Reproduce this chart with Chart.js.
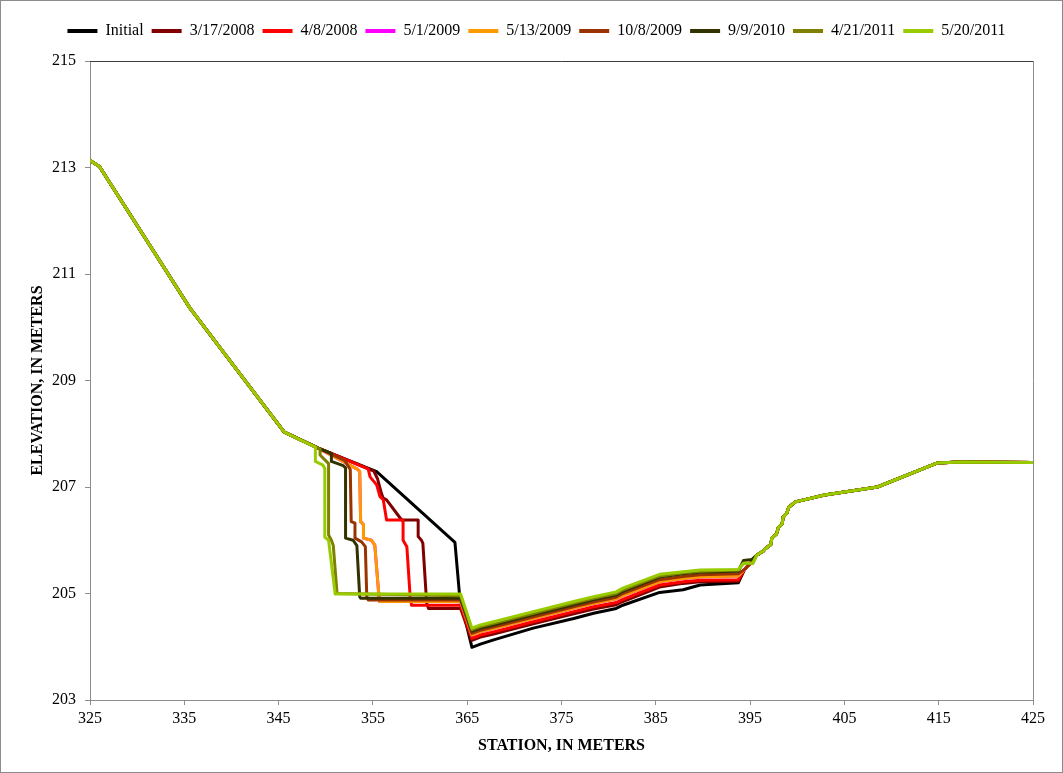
<!DOCTYPE html>
<html>
<head>
<meta charset="utf-8">
<script src="https://cdn.jsdelivr.net/npm/chart.js@4.4.1/dist/chart.umd.min.js"></script>
<style>
  html, body { margin: 0; padding: 0; background: #ffffff; }
  #wrap { width: 1063px; height: 773px; position: relative; }
</style>
</head>
<body>
<div id="wrap"><canvas id="xs"></canvas></div>
<script>
// Cross-section survey: station (m) vs. elevation (m) for each survey date.

// Reach shared by every survey: left overbank down to the top of the cut bank
const leftBankStation = [325, 326, 335.6, 345.6];
const leftBankElev    = [213.13, 213.02, 210.36, 208.03];

// Reach shared by every survey: right bank up to the terrace
const rightBankStation = [395.7, 396.4, 396.6, 397.2, 397.3, 397.8, 398.0, 398.4, 398.5, 398.9, 399.1, 399.8, 402.9, 408.5, 414.8, 417.3, 425];
const rightBankElev    = [205.72, 205.80, 205.84, 205.92, 206.04, 206.12, 206.24, 206.31, 206.43, 206.51, 206.62, 206.72, 206.85, 207.00, 207.45, 207.47, 207.46];

// Channel bed stations (thalweg to right toe)
const bedStation = [365.5, 366.4, 367.8, 372.0, 376.3, 378.4, 380.8, 381.5, 385.4, 387.9, 389.7, 393.75];

// Survey labels
const surveyLabels = ['Initial', '3/17/2008', '4/8/2008', '5/1/2009', '5/13/2009', '10/8/2009', '9/9/2010', '4/21/2011', '5/20/2011'];
const surveyColors = ['#000000', '#800000', '#ff0000', '#ff00ff', '#ff9900', '#993300', '#333300', '#808000', '#99cc00'];

// Initial
const initialBankStation = [349.2, 355.4, 363.7, 364.2, 364.6];
const initialBankElev    = [207.73, 207.29, 205.96, 204.95, 204.65];
const initialBedElev     = [203.99, 204.05, 204.13, 204.35, 204.53, 204.63, 204.72, 204.78, 205.02, 205.07, 205.16, 205.20];
const initialToeStation  = [394.4, 395.1];
const initialToeElev     = [205.45, 205.58];

// 3/17/2008
const s0308BankStation = [349.2, 355.1, 355.5, 355.9, 356.1, 356.45, 358.05, 359.8, 359.8, 360.15, 360.3, 360.7, 360.9, 364.3];
const s0308BankElev    = [207.73, 207.30, 207.15, 206.88, 206.79, 206.76, 206.38, 206.38, 206.07, 206.00, 205.94, 204.82, 204.72, 204.72];
const s0308BedElev     = [204.12, 204.18, 204.24, 204.43, 204.62, 204.71, 204.79, 204.85, 205.12, 205.19, 205.22, 205.23];
const s0308ToeStation  = [394.4, 395.1];
const s0308ToeElev     = [205.45, 205.58];

// 4/8/2008
const s0408BankStation = [349.2, 354.5, 354.7, 355.4, 355.75, 356.1, 356.45, 358.2, 358.2, 358.6, 358.95, 359.1, 364.3];
const s0408BankElev    = [207.73, 207.34, 207.19, 207.04, 206.82, 206.76, 206.38, 206.38, 206.00, 205.88, 204.94, 204.78, 204.78];
const s0408BedElev     = [204.16, 204.22, 204.28, 204.47, 204.66, 204.75, 204.83, 204.89, 205.16, 205.22, 205.25, 205.26];
const s0408ToeStation  = [394.4, 395.1];
const s0408ToeElev     = [205.45, 205.58];

// 5/1/2009
const s0509aBankStation = [349.2, 353.4, 353.6, 353.7, 354.0, 354.0, 354.85, 355.2, 355.6, 355.7, 364.3];
const s0509aBankElev    = [207.73, 207.33, 207.29, 206.35, 206.29, 206.04, 206.00, 205.91, 205.04, 204.85, 204.85];
const s0509aBedElev     = [204.22, 204.28, 204.34, 204.53, 204.72, 204.81, 204.90, 204.96, 205.22, 205.28, 205.31, 205.33];
const s0509aToeStation  = [394.4, 395.1];
const s0509aToeElev     = [205.45, 205.58];

// 5/13/2009
const s0509bBankStation = [349.2, 353.4, 353.6, 353.7, 354.0, 354.0, 354.85, 355.2, 355.6, 355.7, 364.3];
const s0509bBankElev    = [207.73, 207.33, 207.29, 206.35, 206.29, 206.04, 206.00, 205.91, 205.04, 204.85, 204.85];
const s0509bBedElev     = [204.22, 204.28, 204.34, 204.53, 204.72, 204.81, 204.90, 204.96, 205.22, 205.28, 205.31, 205.33];
const s0509bToeStation  = [394.4, 395.1];
const s0509bToeElev     = [205.45, 205.58];

// 10/8/2009
const s1009BankStation = [349.2, 352.0, 352.6, 352.7, 353.1, 353.1, 353.8, 354.2, 354.35, 354.5, 364.3];
const s1009BankElev    = [207.73, 207.50, 207.33, 206.35, 206.32, 206.04, 205.97, 205.88, 204.94, 204.88, 204.88];
const s1009BedElev     = [204.25, 204.31, 204.37, 204.56, 204.75, 204.84, 204.93, 205.00, 205.26, 205.32, 205.35, 205.37];
const s1009ToeStation  = [394.4, 395.1];
const s1009ToeElev     = [205.45, 205.58];

// 9/9/2010
const s1010BankStation = [349.2, 350.6, 350.6, 351.85, 352.1, 352.1, 352.9, 353.3, 353.6, 353.7, 364.3];
const s1010BankElev    = [207.73, 207.63, 207.48, 207.40, 207.36, 206.04, 206.00, 205.90, 204.94, 204.91, 204.91];
const s1010BedElev     = [204.29, 204.35, 204.41, 204.60, 204.79, 204.88, 204.97, 205.04, 205.31, 205.37, 205.40, 205.42];
const s1010ToeStation  = [394.3, 395.2];
const s1010ToeElev     = [205.62, 205.64];

// 4/21/2011
const s0411BankStation = [349.4, 349.4, 350.3, 350.3, 350.6, 350.8, 351.2, 364.3];
const s0411BankElev    = [207.71, 207.60, 207.44, 206.10, 206.00, 205.90, 205.00, 204.96];
const s0411BedElev     = [204.32, 204.38, 204.44, 204.63, 204.82, 204.91, 205.00, 205.07, 205.33, 205.39, 205.42, 205.44];
const s0411ToeStation  = [394.3, 395.3];
const s0411ToeElev     = [205.57, 205.57];

// 5/20/2011
const s0511BankStation = [348.9, 348.9, 349.7, 349.9, 349.9, 350.3, 351.0, 364.3];
const s0511BankElev    = [207.75, 207.48, 207.41, 207.35, 206.06, 206.00, 204.99, 204.99];
const s0511BedElev     = [204.35, 204.41, 204.47, 204.66, 204.85, 204.94, 205.03, 205.10, 205.36, 205.41, 205.44, 205.45];
const s0511ToeStation  = [394.3, 395.3];
const s0511ToeElev     = [205.57, 205.57];

// Axis ticks
const stationTicks = [325, 335, 345, 355, 365, 375, 385, 395, 405, 415, 425];
const elevTicks = [203, 205, 207, 209, 211, 213, 215];

const FONT = '"Liberation Serif", "Times New Roman", serif';

function pairs(xs, ys) { return xs.map((x, i) => ({ x: x, y: ys[i] })); }

function profile(bankSt, bankEl, bedEl, toeSt, toeEl) {
  return [].concat(
    pairs(leftBankStation, leftBankElev),
    pairs(bankSt, bankEl),
    pairs(bedStation, bedEl),
    pairs(toeSt, toeEl),
    pairs(rightBankStation, rightBankElev)
  );
}

const profiles = [
  profile(initialBankStation, initialBankElev, initialBedElev, initialToeStation, initialToeElev),
  profile(s0308BankStation, s0308BankElev, s0308BedElev, s0308ToeStation, s0308ToeElev),
  profile(s0408BankStation, s0408BankElev, s0408BedElev, s0408ToeStation, s0408ToeElev),
  profile(s0509aBankStation, s0509aBankElev, s0509aBedElev, s0509aToeStation, s0509aToeElev),
  profile(s0509bBankStation, s0509bBankElev, s0509bBedElev, s0509bToeStation, s0509bToeElev),
  profile(s1009BankStation, s1009BankElev, s1009BedElev, s1009ToeStation, s1009ToeElev),
  profile(s1010BankStation, s1010BankElev, s1010BedElev, s1010ToeStation, s1010ToeElev),
  profile(s0411BankStation, s0411BankElev, s0411BedElev, s0411ToeStation, s0411ToeElev),
  profile(s0511BankStation, s0511BankElev, s0511BedElev, s0511ToeStation, s0511ToeElev)
];

const datasets = profiles.map((pts, i) => ({
  label: surveyLabels[i],
  data: pts,
  borderColor: surveyColors[i],
  backgroundColor: surveyColors[i],
  borderWidth: 3,
  pointRadius: 0,
  pointHoverRadius: 0,
  showLine: true,
  fill: false,
  tension: 0,
  borderJoinStyle: 'round',
  borderCapStyle: 'round',
  order: surveyLabels.length - i   // later surveys drawn over earlier ones
}));

// Plot frame (top/right edges), outer chart border, legend row placement
const framePlugin = {
  id: 'frame',
  beforeDatasetsDraw(chart) {
    const { ctx, chartArea: a } = chart;
    ctx.save();
    ctx.lineWidth = 1;
    ctx.strokeStyle = '#3c3c3c';
    ctx.beginPath();
    ctx.moveTo(a.left, Math.round(a.top) + 0.5);
    ctx.lineTo(a.right, Math.round(a.top) + 0.5);
    ctx.stroke();
    ctx.strokeStyle = '#8c8c8c';
    ctx.beginPath();
    ctx.moveTo(Math.round(a.right) + 0.5, a.top);
    ctx.lineTo(Math.round(a.right) + 0.5, a.bottom);
    ctx.stroke();
    ctx.restore();
  },
  afterDraw(chart) {
    const { ctx, width, height } = chart;
    ctx.save();
    ctx.lineWidth = 1;
    ctx.strokeStyle = '#8c8c8c';
    ctx.strokeRect(0.5, 0.5, width - 1, height - 1);
    ctx.restore();
  },
  afterLayout(chart) {
    // centre the legend row over the plot area and lift it toward the top edge
    const dx = 20, dy = 12;
    chart.legend.left += dx;
    chart.legend.right += dx;
    chart.legend.top -= dy;
    chart.legend.bottom -= dy;
  }
};

new Chart(document.getElementById('xs'), {
  type: 'scatter',
  data: { datasets: datasets },
  options: {
    responsive: true,
    maintainAspectRatio: false,
    animation: false,
    events: [],
    layout: { padding: { top: 27, right: 30, bottom: 0, left: 0 } },
    plugins: {
      tooltip: { enabled: false },
      legend: {
        position: 'top',
        labels: {
          font: { family: FONT, size: 16 },
          color: '#000000',
          boxWidth: 30,
          boxHeight: 4,
          padding: 8,
          generateLabels(chart) {
            return chart.data.datasets.map((ds, i) => ({
              text: ds.label,
              fillStyle: ds.borderColor,
              strokeStyle: ds.borderColor,
              lineWidth: 0,
              hidden: false,
              datasetIndex: i
            }));
          }
        }
      }
    },
    scales: {
      x: {
        type: 'linear',
        min: stationTicks[0],
        max: stationTicks[stationTicks.length - 1],
        afterBuildTicks(scale) { scale.ticks = stationTicks.map(v => ({ value: v })); },
        afterFit(scale) { scale.height = 73; },
        ticks: { font: { family: FONT, size: 16 }, color: '#000000', padding: 4, maxRotation: 0 },
        grid: { drawOnChartArea: false, drawTicks: true, tickLength: 5, color: '#8c8c8c' },
        border: { display: true, color: '#8c8c8c' },
        title: {
          display: true,
          text: 'STATION, IN METERS',
          font: { family: FONT, size: 16, weight: 'bold' },
          color: '#000000',
          padding: { top: 0, bottom: 18 }
        }
      },
      y: {
        type: 'linear',
        min: elevTicks[0],
        max: elevTicks[elevTicks.length - 1],
        afterBuildTicks(scale) { scale.ticks = elevTicks.map(v => ({ value: v })); },
        afterFit(scale) { scale.width = 90; },
        ticks: { font: { family: FONT, size: 16 }, color: '#000000', padding: 9 },
        grid: { drawOnChartArea: false, drawTicks: true, tickLength: 5, color: '#8c8c8c' },
        border: { display: true, color: '#8c8c8c' },
        title: {
          display: true,
          text: 'ELEVATION, IN METERS',
          font: { family: FONT, size: 16, weight: 'bold' },
          color: '#000000',
          padding: { top: 28, bottom: 0 }
        }
      }
    }
  },
  plugins: [framePlugin]
});
</script>
</body>
</html>
